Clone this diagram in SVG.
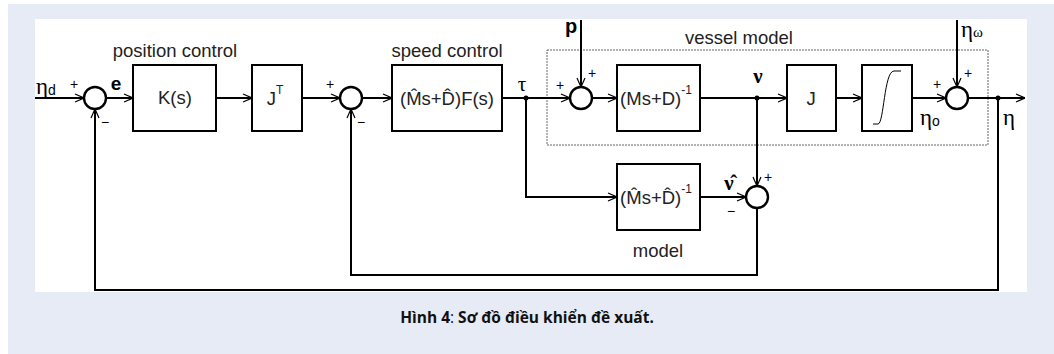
<svg xmlns="http://www.w3.org/2000/svg" width="1054" height="354" viewBox="0 0 1054 354">
<defs>
<marker id="arr" viewBox="0 0 10 10" refX="10" refY="5" markerWidth="10" markerHeight="10" markerUnits="userSpaceOnUse" orient="auto">
<path d="M1 1 L10 5 L1 9" fill="none" stroke="#000" stroke-width="1.2"/>
</marker>
<style>
.blk{fill:#fff;stroke:#000;stroke-width:2}
.sum{fill:#fff;stroke:#000;stroke-width:2.4}
.ln{fill:none;stroke:#000;stroke-width:2}
.t{font-family:"Liberation Sans",Arial,sans-serif;font-size:18.5px;fill:#222}
.g{font-family:"Liberation Serif","DejaVu Serif",serif;fill:#000}
.sg{font-family:"Liberation Sans",Arial,sans-serif;font-size:14px;fill:#000}
.b{font-family:"Liberation Sans",Arial,sans-serif;font-weight:bold;fill:#000}
</style>
</defs>
<rect x="8" y="4" width="1046" height="350" fill="#e6ebf5"/>
<rect x="35" y="19" width="992" height="273" fill="#fff"/>
<rect id="vessel" x="547" y="50" width="441" height="95" fill="none" stroke="#666" stroke-width="1" stroke-dasharray="2,1"/>
<text class="t" x="739" y="44" text-anchor="middle">vessel model</text>

<g id="connectors">
<path class="ln" d="M35 98 H84" marker-end="url(#arr)"/>
<path class="ln" d="M106 98 H133" marker-end="url(#arr)"/>
<path class="ln" d="M216 98 H252" marker-end="url(#arr)"/>
<path class="ln" d="M302 98 H340" marker-end="url(#arr)"/>
<path class="ln" d="M362 98 H392" marker-end="url(#arr)"/>
<path class="ln" d="M502 98 H570" marker-end="url(#arr)"/>
<path class="ln" d="M581 20 V87" marker-end="url(#arr)"/>
<path class="ln" d="M592 98 H617" marker-end="url(#arr)"/>
<path class="ln" d="M700 98 H787" marker-end="url(#arr)"/>
<path class="ln" d="M836 98 H862" marker-end="url(#arr)"/>
<path class="ln" d="M912 98 H946" marker-end="url(#arr)"/>
<path class="ln" d="M957 20 V87" marker-end="url(#arr)"/>
<path class="ln" d="M968 98 H1025" marker-end="url(#arr)"/>
<path class="ln" d="M998 98 V290 H95 V109" marker-end="url(#arr)"/>
<path class="ln" d="M526 98 V197 H617" marker-end="url(#arr)"/>
<path class="ln" d="M757 98 V186" marker-end="url(#arr)"/>
<path class="ln" d="M700 197 H746" marker-end="url(#arr)"/>
<path class="ln" d="M757 208 V275 H351 V109" marker-end="url(#arr)"/>
<circle cx="526" cy="98" r="2.5"/>
<circle cx="757" cy="98" r="2.5"/>
<circle cx="998" cy="98" r="2.5"/>
</g>

<g id="sum1"><circle class="sum" cx="95" cy="98" r="11"/><text class="sg" x="74" y="89" text-anchor="middle">+</text><text class="sg" x="105" y="127" text-anchor="middle">−</text></g>
<g id="sum2"><circle class="sum" cx="351" cy="98" r="11"/><text class="sg" x="330" y="89" text-anchor="middle">+</text><text class="sg" x="361" y="127" text-anchor="middle">−</text></g>
<g id="sum3"><circle class="sum" cx="581" cy="98" r="11"/><text class="sg" x="560" y="90" text-anchor="middle">+</text><text class="sg" x="592" y="78" text-anchor="middle">+</text></g>
<g id="sum4"><circle class="sum" cx="957" cy="98" r="11"/><text class="sg" x="937" y="89" text-anchor="middle">+</text><text class="sg" x="968" y="78" text-anchor="middle">+</text></g>
<g id="sum5"><circle class="sum" cx="757" cy="197" r="11"/><text class="sg" x="768" y="182" text-anchor="middle">+</text><text class="sg" x="731" y="216" text-anchor="middle">−</text></g>

<g id="labels">
<text class="g" x="36" y="94" font-size="23">η<tspan font-size="14" font-family="Liberation Sans,Arial,sans-serif" dy="1">d</tspan></text>
<text class="b" x="116" y="90" font-size="19" text-anchor="middle">e</text>
<text class="g" x="522" y="91" font-size="21" text-anchor="middle">τ</text>
<text class="b" x="565" y="33" font-size="20">p</text>
<text class="g" x="758" y="83" font-size="21" font-weight="bold" text-anchor="middle">ν</text>
<text class="g" x="729" y="190" font-size="21" font-weight="bold" text-anchor="middle">ν̂</text>
<text class="g" x="961" y="37" font-size="23">η<tspan font-size="15" dy="0">ω</tspan></text>
<text class="g" x="920" y="125" font-size="23">η<tspan font-size="14" font-family="Liberation Sans,Arial,sans-serif" dy="1">o</tspan></text>
<text class="g" x="1003" y="125" font-size="23">η</text>
</g>

<g id="kblock"><rect class="blk" x="133" y="65" width="83" height="66"/><text class="t" x="175" y="57" text-anchor="middle">position control</text><text class="t" x="175" y="104" text-anchor="middle">K(s)</text></g>
<g id="jt"><rect class="blk" x="252" y="65" width="50" height="66"/><text class="t" x="275" y="105" text-anchor="middle">J<tspan font-size="12" dy="-11">T</tspan></text></g>
<g id="speed"><rect class="blk" x="392" y="65" width="110" height="66"/><text class="t" x="447" y="57" text-anchor="middle">speed control</text><text class="t" x="447" y="105" text-anchor="middle">(M̂s+D̂)F(s)</text></g>
<g id="vesselinv"><rect class="blk" x="617" y="65" width="83" height="66"/><text class="t" x="656" y="105" text-anchor="middle">(Ms+D)<tspan font-size="12" dy="-11">-1</tspan></text></g>
<g id="j"><rect class="blk" x="787" y="65" width="49" height="66"/><text class="t" x="811" y="105" text-anchor="middle">J</text></g>
<g id="integ"><rect class="blk" x="862" y="65" width="50" height="66"/><path d="M873 124 H878 C884 124 884 71 894 71 H901" fill="none" stroke="#000" stroke-width="1"/></g>
<g id="model"><rect class="blk" x="617" y="164" width="83" height="66"/><text class="t" x="656" y="204" text-anchor="middle">(M̂s+D̂)<tspan font-size="12" dy="-11">-1</tspan></text><text class="t" x="658" y="257" text-anchor="middle">model</text></g>

<text x="527" y="323" text-anchor="middle" font-family="Open Sans,Noto Sans,sans-serif" font-size="15.5" fill="#111"><tspan font-weight="bold">Hình 4</tspan>: <tspan font-weight="bold">Sơ đồ điều khiển đề xuất.</tspan></text>
</svg>
